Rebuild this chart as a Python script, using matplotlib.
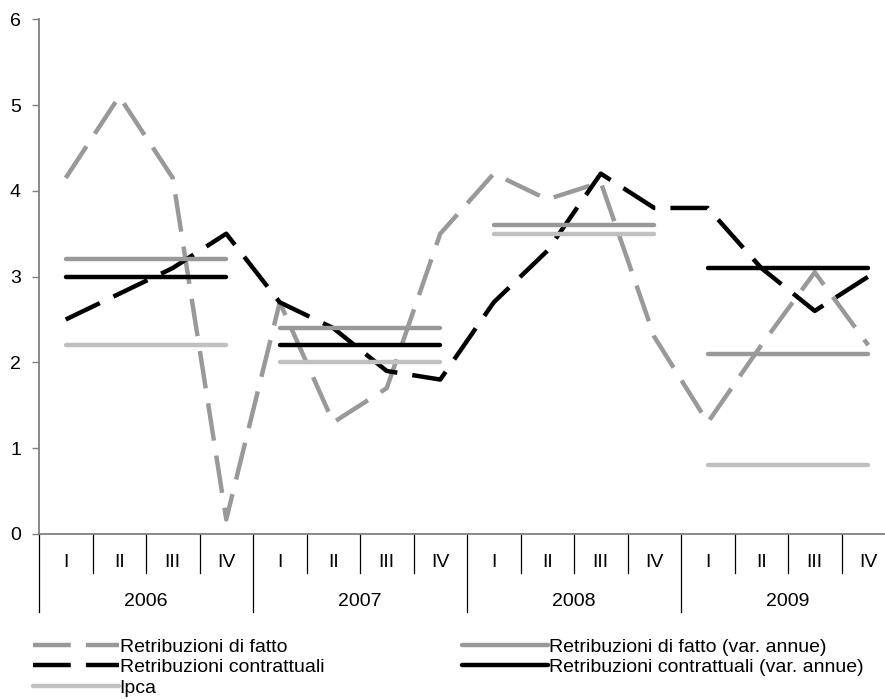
import numpy as np
import matplotlib.pyplot as plt
from matplotlib.transforms import blended_transform_factory

plt.rcParams['font.family'] = ['Liberation Sans', 'DejaVu Sans']
plt.rcParams['font.size'] = 14

# Data
anni = ['2006', '2007', '2008', '2009']
trimestri = ['I', 'II', 'III', 'IV']

fatto = [4.15, 5.1, 4.15, 0.17, 2.7, 1.3, 1.7, 3.5,
         4.2, 3.9, 4.1, 2.3, 1.3, 2.2, 3.05, 2.2]
contrattuali = [2.5, 2.8, 3.1, 3.5, 2.7, 2.4, 1.9, 1.8,
                2.7, 3.3, 4.2, 3.8, 3.8, 3.1, 2.6, 3.0]
fatto_annue = [3.2, 2.4, 3.6, 2.1]
contrattuali_annue = [3.0, 2.2, np.nan, 3.1]
ipca = [2.2, 2.0, 3.5, 0.8]

grigio = '#999999'
grigio_chiaro = '#c0c0c0'
asse = '#808080'

fig = plt.figure(figsize=(8.85, 6.99), dpi=100)
ax = fig.add_axes([39 / 885, 165 / 699, 856 / 885, 514.8 / 699])

x = np.arange(len(fatto))
dash = (0, (8.5, 3.4))
l_fatto, = ax.plot(x, fatto, color=grigio, lw=3.2, linestyle=dash,
                   label='Retribuzioni di fatto')
l_contr, = ax.plot(x, contrattuali, color='black', lw=3.2, linestyle=dash,
                   label='Retribuzioni contrattuali')

# annual values drawn as flat segments over each year's quarters
handles = {}
for serie, col, nome in [(fatto_annue, grigio, 'Retribuzioni di fatto (var. annue)'),
                         (contrattuali_annue, 'black', 'Retribuzioni contrattuali (var. annue)'),
                         (ipca, grigio_chiaro, 'Ipca')]:
    for k, v in enumerate(serie):
        ln, = ax.plot([4 * k, 4 * k + 3], [v, v], color=col, lw=3.2,
                      solid_capstyle='round', label=nome)
        handles[nome] = ln

ax.set_xlim(-0.5, 15.5)
ax.set_ylim(0, 6)
ax.set_yticks(range(7))
ax.set_xticks([])
for s in ['top', 'right']:
    ax.spines[s].set_visible(False)
for s in ['left', 'bottom']:
    ax.spines[s].set_color(asse)
    ax.spines[s].set_linewidth(1.3)
ax.tick_params(axis='y', direction='out', length=5, width=1, color=asse, pad=8)

# two-level category axis
tr = blended_transform_factory(ax.transData, ax.transAxes)
for i in range(len(fatto)):
    ax.text(i, -0.055, trimestri[i % 4], transform=tr, ha='center', va='center')
for i in range(len(fatto) + 1):
    low = -0.1515 if i % 4 == 0 else -0.0758
    ax.plot([i - 0.5, i - 0.5], [0, low], transform=tr, color='black',
            lw=0.9, clip_on=False)
for k, a in enumerate(anni):
    ax.text(4 * k + 1.5, -0.131, a, transform=tr, ha='center', va='center')

leg_kw = dict(loc='upper left', frameon=False, borderpad=0, borderaxespad=0,
              handlelength=4.4, handletextpad=0.05, labelspacing=0.15, fontsize=14)
fig.legend([l_fatto, l_contr, handles['Ipca']],
           ['Retribuzioni di fatto', 'Retribuzioni contrattuali', 'Ipca'],
           bbox_to_anchor=(33 / 885, 1 - 638 / 699), **leg_kw)
fig.legend([handles['Retribuzioni di fatto (var. annue)'],
            handles['Retribuzioni contrattuali (var. annue)']],
           ['Retribuzioni di fatto (var. annue)', 'Retribuzioni contrattuali (var. annue)'],
           bbox_to_anchor=(462 / 885, 1 - 638 / 699), **leg_kw)

fig.savefig('out.png', dpi=100)
